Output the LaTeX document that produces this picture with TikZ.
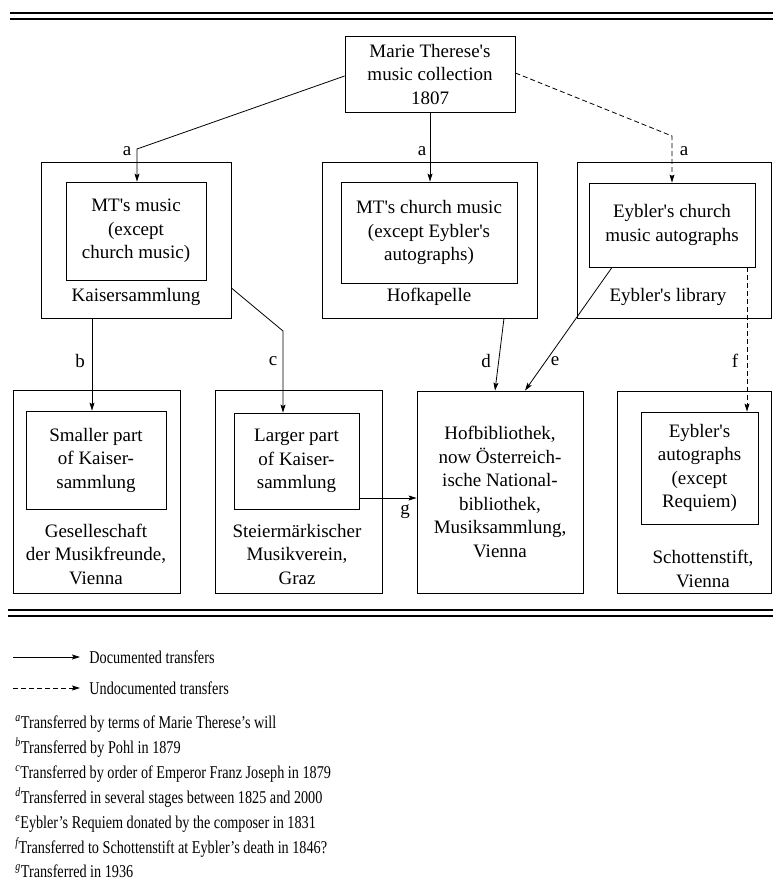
\documentclass[tikz,border=0pt]{standalone}
\usepackage{fontspec}
\setmainfont{Liberation Serif}
\newfontfamily\legfont[FakeStretch=0.79]{Liberation Serif}
\usetikzlibrary{arrows.meta,calc}
\newcommand{\qs}{\textquotesingle}
\begin{document}
\begin{tikzpicture}[x=1pt,y=-1pt,line width=0.8pt,
  bx/.style={draw,inner sep=0pt},
  txt/.style={font=\fontsize{19}{23.5}\selectfont,align=center,inner sep=0pt},
  lbl/.style={font=\fontsize{19}{24}\selectfont,inner sep=0pt},
  doc/.style={-{Stealth[length=8pt,width=5pt,inset=1.5pt]}},
  undoc/.style={doc,dash pattern=on 5pt off 3pt},
  rule/.style={line width=1.1pt},
  leg/.style={font=\legfont\fontsize{18}{22}\selectfont,inner sep=0pt},
  note/.style={leg,anchor=base west}]
\useasboundingbox (0,0) rectangle (773,881);

% rules
\draw[rule] (10,13) -- (773,13);
\draw[rule] (10,19) -- (773,19);
\draw[rule] (8,610) -- (773,610);
\draw[rule] (8,616) -- (773,616);

% top box
\node[bx,txt,minimum width=170pt,minimum height=76pt] (T) at (430,74)
  {Marie Therese\qs s\\music collection\\1807};

% middle row
\node[bx,minimum width=190pt,minimum height=156pt] (O1) at (136,240) {};
\node[bx,txt,minimum width=140pt,minimum height=98pt] (I1) at (136,231)
  {MT\qs s music\\(except\\church music)};
\node[txt] (L1) at (136,297) {Kaisersammlung};

\node[bx,minimum width=215pt,minimum height=156pt] (O2) at (429.5,240) {};
\node[bx,txt,minimum width=176pt,minimum height=101pt] (I2) at (429,232.5)
  {MT\qs s church music\\(except Eybler\qs s\\autographs)};
\node[txt] (L2) at (429,297) {Hofkapelle};

\node[bx,minimum width=194pt,minimum height=156pt] (O3) at (674,240) {};
\node[bx,txt,minimum width=166pt,minimum height=84pt] (I3) at (672,225)
  {Eybler\qs s church\\music autographs};
\node[txt] (L3) at (668,297) {Eybler\qs s library};

% bottom row
\node[bx,minimum width=167pt,minimum height=203pt] (O4) at (96.5,491.5) {};
\node[bx,txt,minimum width=140pt,minimum height=98pt] (I4) at (96,460)
  {Smaller part\\of Kaiser-\\sammlung};
\node[txt] (L4) at (96,554) {Geselleschaft\\der Musikfreunde,\\Vienna};

\node[bx,minimum width=167pt,minimum height=203pt] (O5) at (298.5,491.5) {};
\node[bx,txt,minimum width=125pt,minimum height=96pt] (I5) at (296.5,461)
  {Larger part\\of Kaiser-\\sammlung};
\node[txt] (L5) at (297,554) {Steiermärkischer\\Musikverein,\\Graz};

\node[bx,txt,minimum width=166pt,minimum height=202pt] (O6) at (500,492)
  {Hofbibliothek,\\now Österreich-\\ische National-\\bibliothek,\\Musiksammlung,\\Vienna};

\node[bx,minimum width=154pt,minimum height=202pt] (O7) at (694,492) {};
\node[bx,txt,minimum width=117pt,minimum height=112pt] (I7) at (699.5,468)
  {Eybler\qs s\\autographs\\(except\\Requiem)};
\node[txt] (L7) at (703,569) {Schottenstift,\\Vienna};

% helper coordinates
\coordinate (a1bend) at (137,149);
\coordinate (a3bend) at (672,136);
\coordinate (bx) at (92,0);
\coordinate (c0) at (0,288);
\coordinate (cbend) at (283,331);
\coordinate (d1) at (504,0);
\coordinate (d2) at (495,0);
\coordinate (e1) at (612,0);
\coordinate (e2) at (525,0);
\coordinate (fx) at (747,0);
\coordinate (gy) at (0,498);

% connectors
\draw[doc] (T.west |- 0,76) -- (a1bend) -- (a1bend |- I1.north);
\draw[doc] (T.south) -- (T.south |- I2.north);
\draw[undoc] (T.east |- 0,73) -- (a3bend) -- (a3bend |- I3.north);
\draw[doc] (O1.south -| bx) -- (I4.north -| bx);
\draw[doc] (O1.east |- c0) -- (cbend) -- (cbend |- I5.north);
\draw[doc] (O2.south -| d1) -- (O6.north -| d2);
\draw[doc] (I3.south -| e1) -- (O6.north -| e2);
\draw[undoc] (I3.south -| fx) -- (I7.north -| fx);
\draw[doc] (I5.east |- gy) -- (O6.west |- gy);

% connector labels
\node[lbl] (la1) at (127,151) {a};
\node[lbl] (la2) at (422,151) {a};
\node[lbl] (la3) at (684,151) {a};
\node[lbl] (lb) at (80,361) {b};
\node[lbl] (lc) at (273,361) {c};
\node[lbl] (ld) at (486,361) {d};
\node[lbl] (le) at (555,361) {e};
\node[lbl] (lf) at (735,361) {f};
\node[lbl] (lg) at (405,512) {g};

% legend
\coordinate (s1) at (13,657);
\coordinate (s2) at (80,657);
\coordinate (u1) at (13,688);
\coordinate (u2) at (80,688);
\draw[doc] (s1) -- (s2);
\draw[undoc] (u1) -- (u2);
\node[leg,anchor=west] (ld1) at (89,657) {Documented transfers};
\node[leg,anchor=west] (ld2) at (89,688) {Undocumented transfers};

\node[note] (n1) at (15,728) {\textsuperscript{\itshape a}Transferred by terms of Marie Therese’s will};
\node[note] (n2) at (15,753) {\textsuperscript{\itshape b}Transferred by Pohl in 1879};
\node[note] (n3) at (15,778) {\textsuperscript{\itshape c}Transferred by order of Emperor Franz Joseph in 1879};
\node[note] (n4) at (15,803) {\textsuperscript{\itshape d}Transferred in several stages between 1825 and 2000};
\node[note] (n5) at (15,828) {\textsuperscript{\itshape e}Eybler’s Requiem donated by the composer in 1831};
\node[note] (n6) at (15,853) {\textsuperscript{\itshape f}Transferred to Schottenstift at Eybler’s death in 1846?};
\node[note] (n7) at (15,877) {\textsuperscript{\itshape g}Transferred in 1936};
\end{tikzpicture}
\end{document}
